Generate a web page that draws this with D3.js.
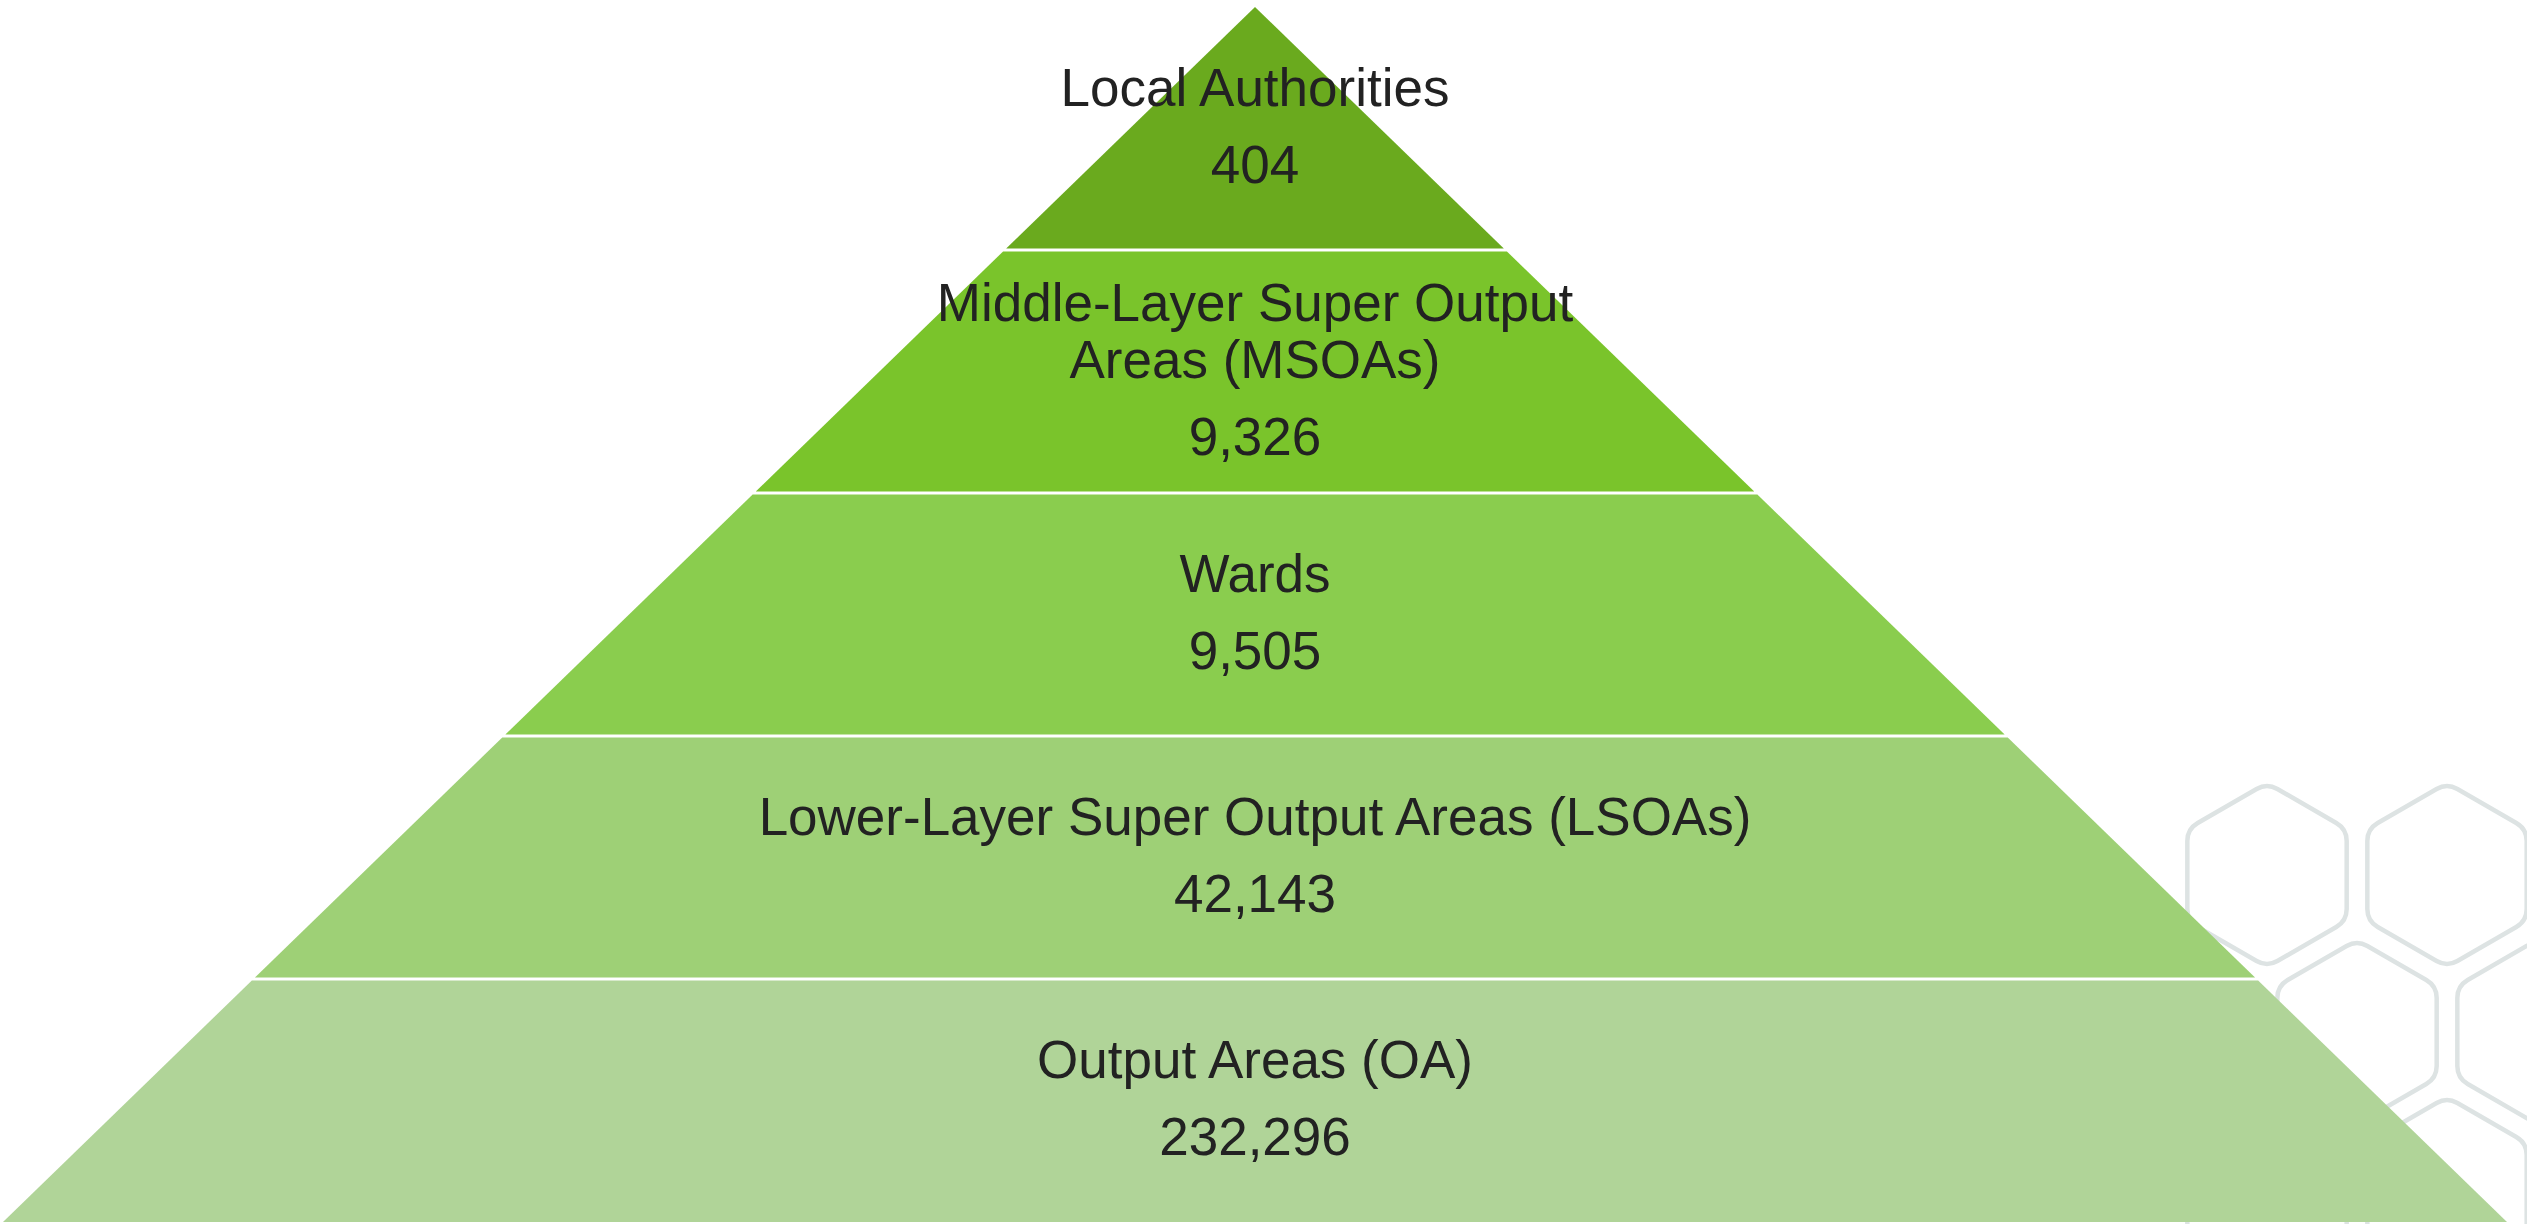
<!DOCTYPE html>
<meta charset="utf-8">
<script src="https://d3js.org/d3.v7.min.js"></script>
<style>
    body { margin: 0; background: #fff; }
    .label { font-family: "Liberation Sans", Arial, sans-serif; font-size: 53px; fill: #222; }
</style>
<body>
<svg id="pyramid" width="2527" height="1224"></svg>
<script>
// levels, top of the pyramid first
var levels = ["Local Authorities", "Middle-Layer Super Output\nAreas (MSOAs)", "Wards",
              "Lower-Layer Super Output Areas (LSOAs)", "Output Areas (OA)"];
var counts = [404, 9326, 9505, 42143, 232296];
var colors = ["#6aaa1e", "#7ac42b", "#8acd4e", "#9ed076", "#b0d498"];

var svg = d3.select("svg"),
  width = +svg.attr("width"),
  height = +svg.attr("height");

var apexX = 1255, apexY = 7, baseY = 1222, halfBase = 1252;

// vertical bands
var y = d3.scaleBand()
  .domain(levels)
  .range([apexY, baseY]);

// half width of the triangle at a given y
var half = d3.scaleLinear()
  .domain([apexY, baseY])
  .range([0, halfBase]);

// background honeycomb decoration (bottom right)
var hexR = 92, hexDx = 180, hexDy = 157, corner = 12;
var hexCells = [[0, 0], [1, 0], [0.5, 1], [1.5, 1], [0, 2], [1, 2]];

// hexagon with slightly rounded corners
function hexPath(cx, cy) {
  var pts = d3.range(6).map(function (k) {
    var a = Math.PI / 3 * k - Math.PI / 2;
    return [cx + hexR * 1.0 * Math.cos(a), cy + hexR * Math.sin(a)];
  });
  var p = d3.path();
  pts.forEach(function (v, k) {
    var prev = pts[(k + 5) % 6], next = pts[(k + 1) % 6];
    var l1 = Math.hypot(prev[0] - v[0], prev[1] - v[1]),
        l2 = Math.hypot(next[0] - v[0], next[1] - v[1]);
    var a0 = [v[0] + (prev[0] - v[0]) * corner / l1, v[1] + (prev[1] - v[1]) * corner / l1],
        a1 = [v[0] + (next[0] - v[0]) * corner / l2, v[1] + (next[1] - v[1]) * corner / l2];
    if (k === 0) p.moveTo(a0[0], a0[1]); else p.lineTo(a0[0], a0[1]);
    p.quadraticCurveTo(v[0], v[1], a1[0], a1[1]);
  });
  p.closePath();
  return p.toString();
}

svg.append("g")
  .selectAll("path")
  .data(hexCells)
  .enter()
  .append("path")
    .attr("d", function (c) { return hexPath(2267 + c[0] * hexDx, 875 + c[1] * hexDy); })
    .attr("fill", "none")
    .attr("stroke", "#dde3e3")
    .attr("stroke-width", 4.5);

var gap = 1.5;
var band = svg.append("g")
  .selectAll("g")
  .data(levels)
  .enter()
  .append("g");

// trapezoid slices
band.append("path")
  .attr("d", function (d, i) {
    var y0 = y(d) + (i === 0 ? 0 : gap),
        y1 = y(d) + y.bandwidth() - (i === levels.length - 1 ? 0 : gap);
    return d3.line()([
      [apexX - half(y0), y0], [apexX + half(y0), y0],
      [apexX + half(y1), y1], [apexX - half(y1), y1]
    ]) + "Z";
  })
  .attr("fill", function (d, i) { return colors[i]; });

// labels and counts
var fmt = d3.format(",");
band.each(function (d, i) {
  var lines = d.split("\n");
  var lineGap = 57, valueGap = 77;
  var blockH = (lines.length - 1) * lineGap + valueGap;
  var mid = y(d) + y.bandwidth() / 2;
  var first = mid - blockH / 2 + 16;
  var g = d3.select(this);
  lines.forEach(function (t, k) {
    g.append("text")
      .attr("class", "label")
      .attr("x", apexX)
      .attr("y", first + k * lineGap)
      .attr("text-anchor", "middle")
      .text(t);
  });
  g.append("text")
    .attr("class", "label")
    .attr("x", apexX)
    .attr("y", first + (lines.length - 1) * lineGap + valueGap)
    .attr("text-anchor", "middle")
    .text(fmt(counts[i]));
});
</script>
</body>
</html>
